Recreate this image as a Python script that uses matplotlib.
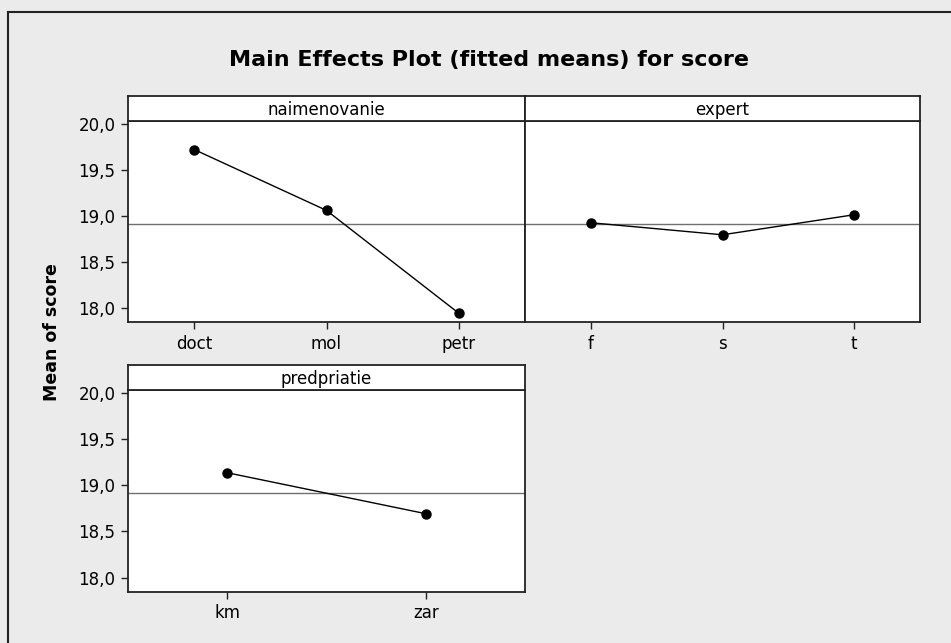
import matplotlib.pyplot as plt
from matplotlib.lines import Line2D

# fitted means for each factor
naim_levels = ['doct', 'mol', 'petr']
naim_means = [19.72, 19.058, 17.94]

expert_levels = ['f', 's', 't']
expert_means = [18.924, 18.793, 19.011]

pred_levels = ['km', 'zar']
pred_means = [19.135, 18.692]

grand_mean = 18.915
y_ticks = [18.0, 18.5, 19.0, 19.5, 20.0]
y_tick_labels = ['18,0', '18,5', '19,0', '19,5', '20,0']

W, H = 951, 643
BG = '#ebebeb'

plt.rcParams['font.family'] = 'DejaVu Sans'

fig = plt.figure(figsize=(W / 100, H / 100), dpi=100, facecolor=BG)


def box(x0, y0, x1, y1):
    # pixel box (top-left origin) -> figure rect
    return [x0 / W, 1 - y1 / H, (x1 - x0) / W, (y1 - y0) / H]


def panel(x0, x1, ytop, ybot, strip_top, name, levels, means, show_y):
    ax = fig.add_axes(box(x0, ytop, x1, ybot))
    ax.set_facecolor('white')
    pos = list(range(len(levels)))
    ax.axhline(grand_mean, color='#707070', lw=1, zorder=1)
    ax.plot(pos, means, color='black', lw=1, marker='o', markersize=6.5, zorder=3)
    ax.set_xlim(-0.5, len(levels) - 0.5)
    ax.set_ylim(17.845, 20.03)
    ax.set_xticks(pos)
    ax.set_xticklabels(levels, fontsize=12)
    if show_y:
        ax.set_yticks(y_ticks)
        ax.set_yticklabels(y_tick_labels, fontsize=12)
    else:
        ax.set_yticks([])
    ax.tick_params(direction='out', length=5, width=1, color='#222222', pad=4)
    for s in ax.spines.values():
        s.set_linewidth(1.3)
        s.set_color('#222222')

    # header strip with the factor name
    st = fig.add_axes(box(x0, strip_top, x1, ytop))
    st.set_facecolor('white')
    st.set_xticks([])
    st.set_yticks([])
    for s in st.spines.values():
        s.set_linewidth(1.3)
        s.set_color('#222222')
    st.text(0.5, 0.45, name, ha='center', va='center', fontsize=12,
            transform=st.transAxes)
    return ax


panel(128, 525, 121, 322, 96, 'naimenovanie', naim_levels, naim_means, True)
panel(525, 920, 121, 322, 96, 'expert', expert_levels, expert_means, False)
panel(128, 525, 390, 592, 365, 'predpriatie', pred_levels, pred_means, True)

fig.text(489 / W, 1 - 60 / H, 'Main Effects Plot (fitted means) for score',
         ha='center', va='center', fontsize=16, fontweight='bold')
fig.text(52 / W, 1 - 332 / H, 'Mean of score', rotation=90,
         ha='center', va='center', fontsize=12.5, fontweight='bold')

# outer frame (left and top edges)
fig.add_artist(Line2D([8 / W, 8 / W], [0, 1 - 12 / H], color='#222222', lw=1.5,
                      transform=fig.transFigure))
fig.add_artist(Line2D([8 / W, 1], [1 - 12 / H, 1 - 12 / H], color='#222222', lw=1.5,
                      transform=fig.transFigure))

fig.savefig('out.png', dpi=100, facecolor=BG)
